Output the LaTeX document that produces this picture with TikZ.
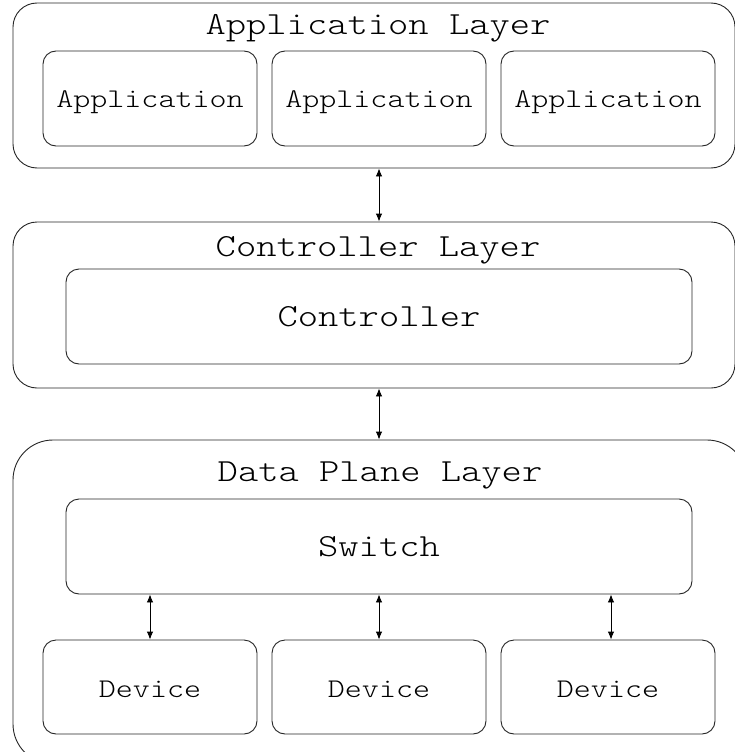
\documentclass[tikz,border=0pt]{standalone}
\usepackage{fontspec}
\newfontfamily\typefont[FakeStretch=1.2]{lmmonolt10-regular.otf}
\usetikzlibrary{arrows.meta}
\begin{document}
\begin{tikzpicture}[x=1pt,y=-1pt,
  line width=0.9pt,
  layerbox/.style={draw=black!85, rounded corners=24pt, inner sep=0pt},
  innerbox/.style={draw=black!85, rounded corners=13pt, inner sep=0pt},
  titletext/.style={font=\typefont\fontsize{32.2}{36}\selectfont, inner sep=0pt, anchor=base},
  boxtext/.style={font=\typefont\fontsize{27}{30}\selectfont, inner sep=0pt, anchor=base},
  bigtext/.style={font=\typefont\fontsize{32.2}{36}\selectfont, inner sep=0pt, anchor=base},
  link/.style={draw=black, line width=0.9pt, {Latex[length=8pt,width=6.5pt]}-{Latex[length=8pt,width=6.5pt]}}]
\useasboundingbox (0,0) rectangle (735,752);
\fill[white] (0,0) rectangle (735,752);

% Application layer
\node[layerbox, minimum width=722pt, minimum height=165pt] (applayer) at (374,85.5) {};
\node[titletext] (apptitle) at (378,35) {Application Layer};
\node[innerbox, minimum width=214pt, minimum height=95pt] (app1) at (150,98.5) {};
\node[innerbox, minimum width=214pt, minimum height=95pt] (app2) at (379,98.5) {};
\node[innerbox, minimum width=214pt, minimum height=95pt] (app3) at (608,98.5) {};
\node[boxtext] at (150,107.5) {Application};
\node[boxtext] at (379,107.5) {Application};
\node[boxtext] at (608,107.5) {Application};

% Controller layer
\node[layerbox, minimum width=722pt, minimum height=166pt] (ctllayer) at (374,305) {};
\node[titletext] (ctltitle) at (378,256) {Controller Layer};
\node[innerbox, minimum width=626pt, minimum height=95pt] (ctl) at (379,316.5) {};
\node[bigtext] at (379,326) {Controller};

% Data plane layer
\node[layerbox, rounded corners=40pt, minimum width=734pt, minimum height=324pt] (datalayer) at (380,602) {};
\node[titletext] (datatitle) at (380,481) {Data Plane Layer};
\node[innerbox, minimum width=626pt, minimum height=95pt] (sw) at (379,546.5) {};
\node[bigtext] at (379,556) {Switch};
\node[innerbox, minimum width=214pt, minimum height=94pt] (dev1) at (150,687) {};
\node[innerbox, minimum width=214pt, minimum height=94pt] (dev2) at (379,687) {};
\node[innerbox, minimum width=214pt, minimum height=94pt] (dev3) at (608,687) {};
\node[boxtext] at (150,697) {Device};
\node[boxtext] at (379,697) {Device};
\node[boxtext] at (608,697) {Device};

% Links between layers
\draw[link] (applayer.south -| 379,0) -- (ctllayer.north -| 379,0);
\draw[link] (ctllayer.south -| 379,0) -- (datalayer.north -| 379,0);
\draw[link] (sw.south -| dev1) -- (dev1.north);
\draw[link] (sw.south) -- (dev2.north);
\draw[link] (sw.south -| 611,0) -- (dev3.north -| 611,0);
\end{tikzpicture}
\end{document}
